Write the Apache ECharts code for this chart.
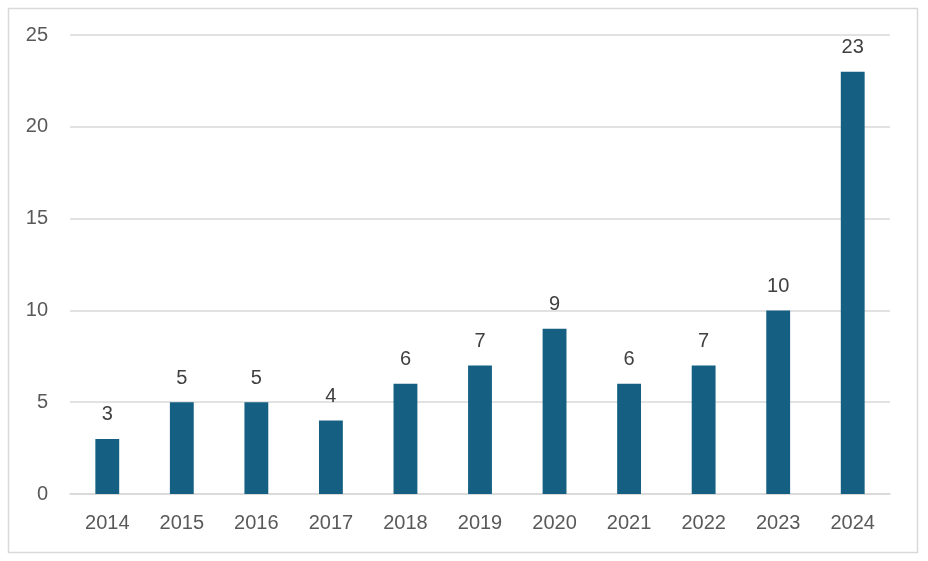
<!DOCTYPE html>
<html><head><meta charset="utf-8">
<script src="https://cdn.jsdelivr.net/npm/echarts@6/dist/echarts.min.js"></script>
<style>html,body{margin:0;padding:0;background:#fff}#c{width:928px;height:561px}</style>
</head><body><div id="c"></div>
<script>
const categories = ['2014','2015','2016','2017','2018','2019','2020','2021','2022','2023','2024'];
const values = [3,5,5,4,6,7,9,6,7,10,23];
const yTicks = [0,5,10,15,20,25];

const font = 'Liberation Sans, Arial, sans-serif';
const chart = echarts.init(document.getElementById('c'), null, {renderer:'canvas'});
chart.setOption({
  animation:false,
  backgroundColor:'#fff',
  graphic:[{type:'rect',shape:{x:8.5,y:8.5,width:909,height:544},style:{fill:'none',stroke:'#d9d9d9',lineWidth:1.5},silent:true}],
  grid:{left:70,right:38,top:35,bottom:67,containLabel:false},
  xAxis:{type:'category',data:categories,
    axisLine:{show:true,lineStyle:{color:'#d9d9d9',width:1.5}},
    axisTick:{show:false},
    axisLabel:{color:'#595959',fontSize:20,fontFamily:font,margin:19}},
  yAxis:{type:'value',min:yTicks[0],max:yTicks[yTicks.length-1],interval:5,
    axisLine:{show:false},axisTick:{show:false},
    splitLine:{lineStyle:{color:'#d9d9d9',width:1.5}},
    axisLabel:{color:'#595959',fontSize:20,fontFamily:font,margin:22}},
  series:[{type:'bar',data:values,barWidth:'32%',
    itemStyle:{color:'#156082'},
    label:{show:true,position:'top',distance:14,color:'#404040',fontSize:20,fontFamily:font}}]
});
</script></body></html>
